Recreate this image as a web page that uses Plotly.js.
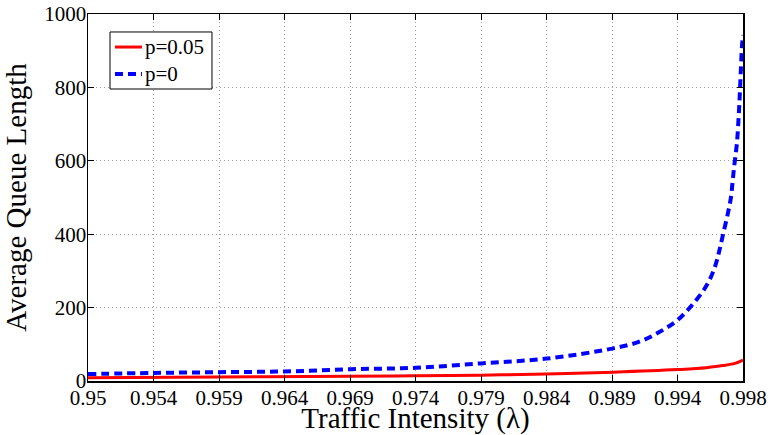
<!DOCTYPE html>
<html>
<head>
<meta charset="utf-8">
<script src="https://cdn.plot.ly/plotly-3.0.1.min.js"></script>
<style>html,body{margin:0;padding:0;background:#fff;}#chart{width:770px;height:435px;}</style>
</head>
<body>
<div id="chart"></div>
<script>
// Traffic intensity values (lambda) for each series
const lambdaP0 = [0.95, 0.9548, 0.9596, 0.9644, 0.9692, 0.974, 0.9788, 0.9836, 0.9885, 0.9904, 0.9919, 0.9932, 0.99434, 0.99536, 0.99595, 0.99624, 0.99653, 0.9969, 0.99712, 0.99723, 0.99734, 0.99756, 0.9977, 0.99778, 0.99785, 0.99792, 0.998];
const queueP0  = [19, 22, 24, 26, 32, 36, 48, 61, 89, 107, 134, 166, 210, 262, 312, 351, 398, 458, 501, 540, 580, 651, 733, 793, 853, 910, 943];

const lambdaP05 = [0.95, 0.9596, 0.9692, 0.974, 0.9788, 0.9836, 0.9885, 0.9932, 0.9953, 0.9965, 0.9974, 0.998];
const queueP05  = [9, 11, 13, 14, 16, 19, 24, 31, 36, 42, 48, 57];

// Tick positions (evenly spaced) and their labels
const xTickVals = [0.95, 0.9548, 0.9596, 0.9644, 0.9692, 0.974, 0.9788, 0.9836, 0.9884, 0.9932, 0.998];
const xTickText = ['0.95', '0.954', '0.959', '0.964', '0.969', '0.974', '0.979', '0.984', '0.989', '0.994', '0.998'];
const yTickVals = [0, 200, 400, 600, 800, 1000];

const seriesNames = ['p=0.05', 'p=0'];

const serif = '"Liberation Serif", "Times New Roman", serif';

const styles = [
  {color: '#ff0000', width: 3, dash: 'solid'},
  {color: '#0000ff', width: 4, dash: '8px,5px'}
];

const traces = [
  {x: lambdaP05, y: queueP05, name: seriesNames[0], mode: 'lines', line: Object.assign({shape: 'spline'}, styles[0])},
  {x: lambdaP0, y: queueP0, name: seriesNames[1], mode: 'lines', line: Object.assign({shape: 'spline'}, styles[1])}
];

// Legend box drawn in paper space (matches the MATLAB-style boxed legend)
const legBox = {x0: 0.0336, x1: 0.1893, y0: 0.7956, y1: 0.951};
const legRowY = [0.910, 0.8365];
const shapes = [
  {type: 'rect', xref: 'paper', yref: 'paper', x0: legBox.x0, x1: legBox.x1, y0: legBox.y0, y1: legBox.y1,
   line: {color: '#000', width: 1}, fillcolor: '#fff', layer: 'above'}
];
const annotations = [];
seriesNames.forEach((nm, i) => {
  shapes.push({type: 'line', xref: 'paper', yref: 'paper', x0: 0.0412, x1: 0.0824, y0: legRowY[i], y1: legRowY[i],
    line: {color: styles[i].color, width: styles[i].width, dash: styles[i].dash}, layer: 'above'});
  annotations.push({xref: 'paper', yref: 'paper', x: 0.084, y: legRowY[i], xanchor: 'left', yanchor: 'middle',
    text: nm, showarrow: false, font: {family: serif, size: 21, color: '#000'}});
});

const layout = {
  width: 770, height: 435,
  margin: {l: 88, r: 27, t: 14, b: 54},
  paper_bgcolor: '#fff', plot_bgcolor: '#fff',
  font: {family: serif, color: '#000', size: 21},
  showlegend: false,
  shapes: shapes,
  annotations: annotations,
  xaxis: {
    range: [0.95, 0.998], tickmode: 'array', tickvals: xTickVals, ticktext: xTickText,
    showgrid: true, gridcolor: '#a0a0a0', griddash: '1px,3px', gridwidth: 1,
    showline: true, linecolor: '#000', linewidth: 1.5, mirror: 'ticks',
    ticks: 'inside', ticklen: 6, tickcolor: '#000', zeroline: false,
    ticklabelstandoff: -3,
    tickfont: {family: serif, size: 21},
    title: {text: 'Traffic Intensity (λ)', font: {family: serif, size: 29}, standoff: 2}
  },
  yaxis: {
    range: [0, 1000], tickmode: 'array', tickvals: yTickVals,
    showgrid: true, gridcolor: '#a0a0a0', griddash: '1px,3px', gridwidth: 1,
    showline: true, linecolor: '#000', linewidth: 1.5, mirror: 'ticks',
    ticks: 'inside', ticklen: 6, tickcolor: '#000', zeroline: false,
    ticklabelstandoff: -4,
    tickfont: {family: serif, size: 21},
    title: {text: 'Average Queue Length', font: {family: serif, size: 29}, standoff: 10}
  }
};

Plotly.newPlot('chart', traces, layout, {displayModeBar: false, staticPlot: true});
</script>
</body>
</html>
